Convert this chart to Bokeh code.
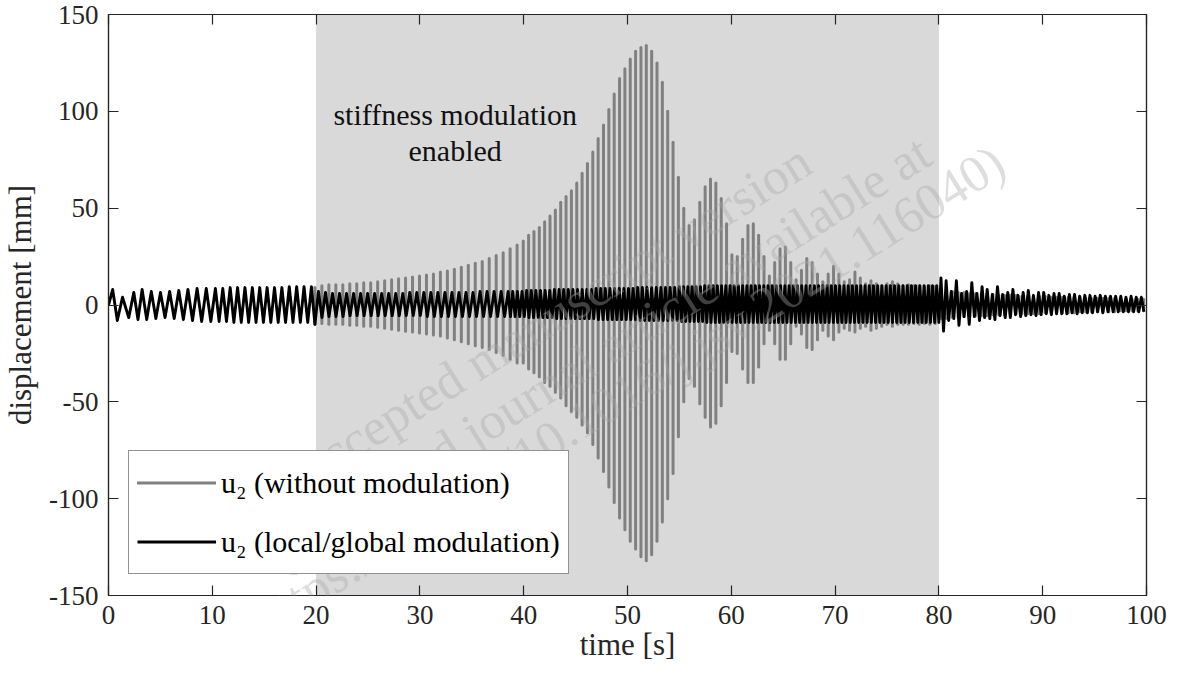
import numpy as np
from bokeh.plotting import figure
from bokeh.models import (ColumnDataSource, BoxAnnotation, LinearAxis, FixedTicker,
                          Legend, LegendItem, Label, CustomJSTickFormatter)
from bokeh.core.properties import value
from bokeh.embed import file_html
from bokeh.resources import INLINE

FONT = "Liberation Serif"
INK = "#262626"

# ---------------- data ----------------
x_ticks = [0, 10, 20, 30, 40, 50, 60, 70, 80, 90, 100]
x_tick_labels = ["0", "10", "20", "30", "40", "50", "60", "70", "80", "90", "100"]
y_ticks = [-150, -100, -50, 0, 50, 100, 150]
y_tick_labels = ["-150", "-100", "-50", "0", "50", "100", "150"]

modulation_start = 20.0
modulation_end = 80.0

annotation_lines = ["stiffness modulation", "enabled"]
annotation_x = [33.4, 33.4]
annotation_y = [98.5, 80.0]

legend_labels = ["u\u2082 (without modulation)", "u\u2082 (local/global modulation)"]

watermark_lines = ["accepted manuscript version",
                   "(published journal article available at",
                   "https://doi.org/10.1016/j.jsv.2021.116040)"]

# black trace: irregular start (explicit extrema)
black_start_t = [0.0, 0.4, 0.85, 1.35, 1.95, 2.44, 2.84]
black_start_u = [0.0, 8.0, -8.0, 4.0, -6.5, 6.5, -7.5]

# black trace: cycle segments (start, end) with per-cycle max / min [mm]
black_seg1 = (3.24, 10.3)
black_max1 = [8, 7, 6.5, 7, 7.5, 8, 8.5, 8.5]
black_min1 = [-7.5, -7, -6.5, -7, -7.5, -8, -8.5, -8.5]

black_seg2 = (10.3, 19.55)
black_max2 = [8.5, 8.5, 9, 9, 9, 9, 9, 9, 9, 9, 9.5, 9.5, 9.5]
black_min2 = [-8.5, -8.5, -9, -9, -9, -9, -9, -9, -9, -9, -9, -9, -9]

black_seg3 = (19.55, 38.5)
black_max3 = [9.5, 7, 6.5, 6, 6, 6, 6, 6, 6, 6, 6, 6, 6, 6, 6.5, 6.5, 6.5, 6.5,
              6.5, 6.5, 6.5, 6.5, 6.5, 6.5, 7, 7, 7, 7]
black_min3 = [-10, -6.5, -6, -6, -6, -5.5, -5.5, -5.5, -5.5, -5.5, -5.5, -5.5, -5.5,
              -5.5, -5.5, -5.5, -6, -6, -6, -6, -6, -6, -6, -6, -6, -6, -6, -6]

black_seg4 = (38.5, 55.0)
black_max4 = [7, 7, 7, 7, 7.5, 7.5, 7.5, 7.5, 7.5, 7.5, 8, 8, 8, 8, 8, 8, 8, 8, 8,
              8.5, 8.5, 8.5, 8.5, 8.5, 8.5, 8.5, 8.5, 8.5, 9, 9, 9, 9, 9, 9, 9, 9, 9]
black_min4 = [-6, -6, -6, -6, -6.5, -6.5, -6.5, -6.5, -6.5, -6.5, -7, -7, -7, -7, -7,
              -7, -7, -7, -7, -7.5, -7.5, -7.5, -7.5, -7.5, -7.5, -7.5, -7.5, -7.5,
              -8, -8, -8, -8, -8, -8, -8, -8, -8]

black_seg5 = (55.0, 80.2)
black_max5 = [9.5, 9.5, 9.5, 9.5, 9.5, 9.5, 10, 10, 10, 10, 10, 10, 10, 10, 10, 10,
              10, 10, 10, 10, 10, 10, 10, 10, 10, 10, 10, 10, 10, 10, 10, 10, 10, 10,
              10, 10, 10, 10, 10, 10, 10, 10, 10, 10, 10, 10, 10, 10, 10, 10, 10, 10,
              10, 10, 10, 10, 10, 10, 10, 10, 10, 10]
black_min5 = [-8.5, -8.5, -8.5, -8.5, -8.5, -8.5, -9, -9, -9, -9, -9, -9, -9, -9, -9,
              -9, -9, -9, -9, -9, -9, -9, -9, -9, -9, -9, -9, -9, -9, -9, -9, -9, -9,
              -9, -9, -9, -9, -9, -9, -9, -9, -9, -9, -9, -9, -9, -9, -9, -9, -9, -9,
              -9, -9, -9, -9, -9, -9, -9, -9, -9, -9, -9]

black_seg6 = (80.2, 100.0)
black_max6 = [14, 12.5, 7, 12.5, 6, 7, 11.5, 6, 9.5, 8, 5.5, 9.5, 5.5, 6.5, 8, 5,
              6.5, 7.5, 5, 6.5, 6.5, 5, 6, 6, 4.5, 5.5, 5.5, 4.5, 5, 5, 4.5, 5, 4.5,
              4.5, 4.5, 4.5, 4, 4.5, 4, 4]
black_min6 = [-13.5, -8, -7, -10.5, -6, -10, -6, -8, -6.5, -7, -7.5, -5.5, -6.5,
              -6.5, -5, -6, -5.5, -5, -5.5, -5, -4.5, -5, -4.5, -4.5, -4.5, -4, -4.5,
              -4, -4, -4, -3.5, -4, -3.5, -3.5, -3.5, -3.5, -3.5, -3.5, -3.5, -3.5]

# gray trace (without modulation): per-cycle swing max / min [mm]
gray_seg1 = (19.55, 39.7)
gray_max1 = [9, 10, 10.5, 10.5, 10.5, 11, 11, 11.5, 11.5, 12, 12.5, 13, 13.5, 14,
             14.5, 15, 15.5, 16, 17, 17.5, 18.5, 19.5, 20.5, 21.5, 22.5, 24, 25.5,
             27, 29, 31]
gray_min1 = [-10, -9.5, -10, -10, -10, -10.5, -10.5, -11, -11, -11.5, -12, -12.5,
             -13, -13.5, -14, -14.5, -15, -15.5, -16, -17, -18, -19, -20, -21, -22,
             -23, -24.5, -26, -28, -30]

gray_seg2 = (39.7, 79.9)
gray_max2 = [33, 36, 38, 40, 43, 46, 49, 53, 56, 59, 63, 68, 73, 79, 86, 93, 101,
             109, 117, 122, 127, 131, 133, 134, 131, 125, 115, 100, 84, 66, 50, 41,
             44, 53, 61, 65, 63, 55, 42, 26, 25, 34, 41, 42, 36, 25, 15, 22, 29, 30,
             22, 13, 18, 24, 22, 16, 12, 16, 20, 16, 12, 13, 17, 14, 11, 12.5, 11,
             10, 11, 12, 11, 10, 10.5, 10, 10, 9.5, 10, 9.5]
gray_min2 = [-30, -33, -35, -37, -40, -42, -45, -48, -52, -55, -58, -62, -66, -72,
             -79, -86, -94, -102, -110, -116, -122, -126, -130, -132, -129, -122,
             -112, -100, -87, -68, -50, -38, -42, -51, -58, -63, -61, -52, -40, -24,
             -25, -33, -40, -40, -32, -20, -13, -20, -28, -28, -20, -11, -15, -22,
             -23, -18, -13, -16, -18, -14, -12, -13, -14, -12, -11, -13, -12, -11,
             -10, -11, -10, -10, -10, -9.5, -10, -9.5, -10, -9.5]

gray_seg3 = (79.9, 100.0)
gray_max3 = [8, 7.5, 7, 6.5, 6.5, 6, 6, 5.5, 5.5, 5.5, 5, 5, 5, 5, 4.5, 4.5, 4.5,
             4.5, 4.5, 4, 4, 4, 4, 4, 4, 3.5, 3.5, 3.5, 3.5, 3.5, 3.5, 3.5, 3, 3, 3, 3]
gray_min3 = [-7, -7, -6.5, -6.5, -6, -6, -5.5, -5.5, -5.5, -5, -5, -5, -5, -4.5,
             -4.5, -4.5, -4.5, -4.5, -4, -4, -4, -4, -4, -4, -3.5, -3.5, -3.5, -3.5,
             -3.5, -3.5, -3.5, -3, -3, -3, -3, -3]


# ---------------- assemble traces from the read values ----------------
def cycles_to_polyline(seg, maxima, minima):
    t0, t1 = seg
    n = len(maxima)
    period = (t1 - t0) / n
    ts, us = [], []
    for k in range(n):
        ts += [t0 + k * period, t0 + (k + 0.5) * period]
        us += [maxima[k], minima[k]]
    return ts, us


def cycles_to_swings(seg, maxima, minima):
    t0, t1 = seg
    n = len(maxima)
    period = (t1 - t0) / n
    ts = [t0 + (k + 0.5) * period for k in range(n)]
    return ts, list(minima), list(maxima)


black_t = list(black_start_t)
black_u = list(black_start_u)
for seg, mx, mn in [(black_seg1, black_max1, black_min1), (black_seg2, black_max2, black_min2),
                    (black_seg3, black_max3, black_min3), (black_seg4, black_max4, black_min4),
                    (black_seg5, black_max5, black_min5), (black_seg6, black_max6, black_min6)]:
    ts, us = cycles_to_polyline(seg, mx, mn)
    black_t += ts
    black_u += us

gray_t, gray_lo, gray_hi = [], [], []
for seg, mx, mn in [(gray_seg1, gray_max1, gray_min1), (gray_seg2, gray_max2, gray_min2),
                    (gray_seg3, gray_max3, gray_min3)]:
    ts, lo, hi = cycles_to_swings(seg, mx, mn)
    gray_t += ts
    gray_lo += lo
    gray_hi += hi

black_src = ColumnDataSource(dict(t=black_t, u=black_u))
gray_src = ColumnDataSource(dict(t=gray_t, lo=gray_lo, hi=gray_hi))

# ---------------- figure ----------------
p = figure(frame_width=1038, frame_height=581,
           x_range=(0, 100), y_range=(-150, 150),
           output_backend="svg", toolbar_location=None,
           min_border_left=100, min_border_right=24,
           min_border_top=14, min_border_bottom=66)
p.background_fill_color = "white"
p.border_fill_color = "white"
p.outline_line_color = INK
p.outline_line_width = 1.2
p.xgrid.visible = False
p.ygrid.visible = False

p.add_layout(BoxAnnotation(left=modulation_start, right=modulation_end,
                           fill_color="#d9d9d9", fill_alpha=1.0,
                           line_color=None, level="underlay"))

gray_r = p.segment(x0="t", y0="lo", x1="t", y1="hi", source=gray_src,
                   line_color="#808080", line_width=3.0, line_cap="round")
black_r = p.line(x="t", y="u", source=black_src, line_color="#000000",
                 line_width=2.9, line_join="round")

p.text(x=annotation_x, y=annotation_y, text=annotation_lines,
       text_font=value(FONT), text_font_size="30px", text_color="#111111",
       text_align="center", text_baseline="alphabetic")

# bottom / left
xa = p.xaxis[0]
ya = p.yaxis[0]
xa.ticker = FixedTicker(ticks=x_ticks)
ya.ticker = FixedTicker(ticks=y_ticks)
xa.major_label_overrides = {t: s for t, s in zip(x_ticks, x_tick_labels)}
ya.major_label_overrides = {t: s for t, s in zip(y_ticks, y_tick_labels)}
xa.axis_label = "time [s]"
ya.axis_label = "displacement [mm]"
for ax in (xa, ya):
    ax.axis_line_color = INK
    ax.axis_line_width = 1.2
    ax.major_tick_line_color = INK
    ax.major_tick_line_width = 1.2
    ax.major_tick_in = 10
    ax.major_tick_out = 0
    ax.minor_tick_line_color = None
    ax.major_label_text_font = FONT
    ax.major_label_text_font_size = "27px"
    ax.major_label_text_color = INK
    ax.axis_label_text_font = FONT
    ax.axis_label_text_font_size = "31px"
    ax.axis_label_text_font_style = "normal"
    ax.axis_label_text_color = INK
xa.major_label_standoff = 10
xa.axis_label_standoff = 0
ya.major_label_standoff = 10
ya.axis_label_standoff = 8

# top / right (box with inward ticks, no labels)
blank = CustomJSTickFormatter(code="return ''")
for loc, ticks in (("above", x_ticks), ("right", y_ticks)):
    ax = LinearAxis(ticker=FixedTicker(ticks=ticks), formatter=blank)
    ax.axis_line_color = INK
    ax.axis_line_width = 1.2
    ax.major_tick_line_color = INK
    ax.major_tick_line_width = 1.2
    ax.major_tick_in = 10
    ax.major_tick_out = 0
    ax.minor_tick_line_color = None
    ax.major_label_text_font_size = "1px"
    ax.major_label_standoff = 0
    p.add_layout(ax, loc)

legend = Legend(items=[LegendItem(label=legend_labels[0], renderers=[gray_r]),
                       LegendItem(label=legend_labels[1], renderers=[black_r])],
                location=(20, 21))
legend.label_text_font = FONT
legend.label_text_font_size = "30px"
legend.label_text_color = "#000000"
legend.border_line_color = INK
legend.border_line_width = 1.2
legend.background_fill_color = "white"
legend.background_fill_alpha = 1.0
legend.glyph_width = 79
legend.glyph_height = 47
legend.label_height = 47
legend.label_standoff = 5
legend.padding = 8
legend.spacing = 12
legend.margin = 0
p.add_layout(legend, "center")

# watermark (screen units relative to the plot frame)
wm_x = [447, 489, 520]
wm_y = [282, 242, 205]
for line, x, y in zip(watermark_lines, wm_x, wm_y):
    p.add_layout(Label(x=x, y=y, x_units="screen", y_units="screen", text=line,
                       angle=0.56, text_align="center", text_baseline="middle",
                       text_font=FONT, text_font_size="52px",
                       text_color="#a8a8a8", text_alpha=0.38, level="overlay"))

open("out.html", "w").write(file_html(p, INLINE))
